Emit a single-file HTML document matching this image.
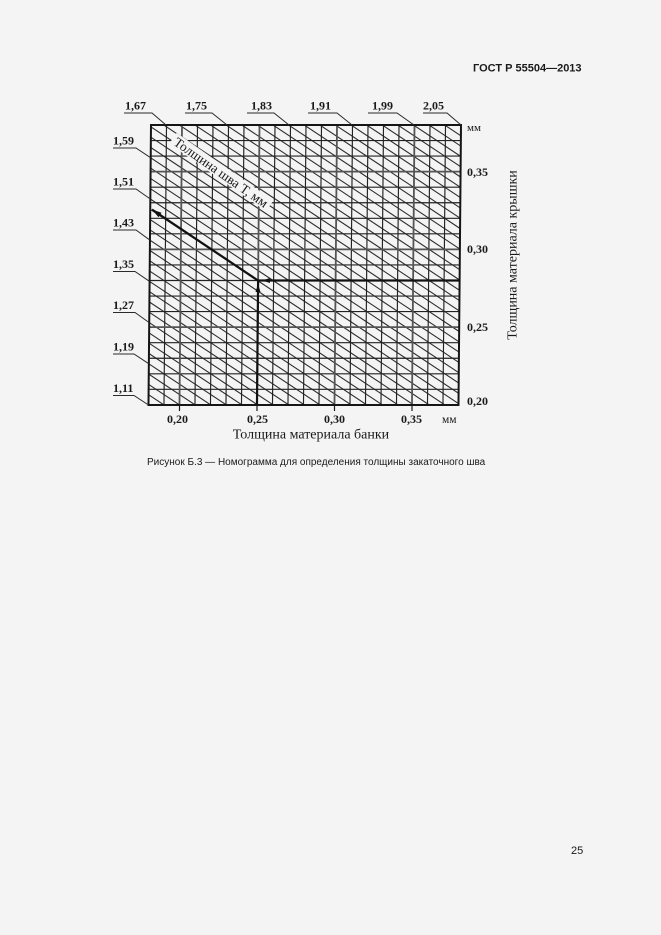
<!DOCTYPE html>
<html><head><meta charset="utf-8"><style>
html,body{margin:0;padding:0;background:#f4f4f4;}
svg{display:block;}
.s{font-family:"Liberation Serif","Noto Serif CJK SC",serif;fill:#1a1a1a;}
.b{font-weight:bold;font-size:12px;}
.a{font-family:"Liberation Sans","Noto Sans CJK SC",sans-serif;fill:#1a1a1a;}
</style></head><body>
<svg width="661" height="935" viewBox="0 0 661 935" xmlns="http://www.w3.org/2000/svg">
<rect width="661" height="935" fill="#f4f4f4"/>
<text class="a" x="473" y="71.5" font-size="11" font-weight="bold">ГОСТ Р 55504—2013</text>

<defs><clipPath id="gc"><rect x="151" y="125" width="310" height="280"/></clipPath></defs>

<g transform="matrix(1,0,-0.009,1,1.125,0)">
  <g clip-path="url(#gc)">
  <path fill="none" stroke="#2e2e2e" stroke-width="1.1" d="
M151,405L461,609.6M151,394.7L461,599.3M151,384.4L461,589M151,374.1L461,578.7M151,363.8L461,568.4
M151,353.5L461,558.1M151,343.2L461,547.8M151,332.9L461,537.5M151,322.6L461,527.2M151,312.3L461,516.9
M151,302L461,506.6M151,291.7L461,496.3M151,281.4L461,486M151,271.1L461,475.7M151,260.8L461,465.4
M151,250.5L461,455.1M151,240.2L461,444.8M151,229.9L461,434.5M151,219.6L461,424.2M151,209.3L461,413.9
M151,199L461,403.6M151,188.7L461,393.3M151,178.4L461,383M151,168.1L461,372.7M151,157.8L461,362.4
M151,147.5L461,352.1M151,137.2L461,341.8M151,126.9L461,331.5M151,116.6L461,321.2M151,106.3L461,310.9
M151,96L461,300.6M151,85.7L461,290.3M151,75.4L461,280M151,65.1L461,269.7M151,54.8L461,259.4
M151,44.5L461,249.1M151,34.2L461,238.8M151,23.9L461,228.5M151,13.6L461,218.2M151,3.3L461,207.9
M151,-7L461,197.6M151,-17.3L461,187.3M151,-27.6L461,177M151,-37.9L461,166.7M151,-48.2L461,156.4
M151,-58.5L461,146.1M151,-68.8L461,135.8M151,-79.1L461,125.5"/>
  </g>
  <path fill="none" stroke="#222" stroke-width="1.15" d="
M166.5,125V405M197.5,125V405M213,125V405M228.5,125V405M244,125V405M275,125V405M290.5,125V405
M306,125V405M321.5,125V405M352.5,125V405M368,125V405M383.5,125V405M399,125V405M430,125V405M445.5,125V405
M151,140.55H461M151,156.1H461M151,187.2H461M151,202.75H461M151,218.3H461M151,233.85H461
M151,264.95H461M151,280.5H461M151,296.05H461M151,311.6H461M151,342.7H461M151,358.25H461
M151,373.8H461M151,389.35H461"/>
  <path fill="none" stroke="#555" stroke-width="1.8" d="
M182,125V405M259.5,125V405M337,125V405M414.5,125V405
M151,171.65H461M151,249.4H461M151,327.15H461"/>
  <rect x="151" y="125" width="310" height="280" fill="none" stroke="#151515" stroke-width="2"/>
  <path fill="none" stroke="#111" stroke-width="2.2" d="M259.5,280.5H461M259.5,280.5V405"/>
  <path fill="#111" d="M259.5,284 l-2.5,8 h5z"/>
</g>

<path fill="none" stroke="#111" stroke-width="2.2" d="M152,209.5L258,280.5"/>
<path fill="#111" d="M152,209.5 l9.5,3.2 l-3,4.5z"/>
<path fill="#111" d="M262,280.5 l8,-2.5 v5z"/>

<g transform="translate(221,172.5) rotate(35)">
  <rect x="-59" y="-7" width="118" height="13" fill="#f4f4f4"/>
  <text class="s" x="0" y="4.5" font-size="13.5" text-anchor="middle">Толщина шва Т, мм</text>
</g>

<path fill="none" stroke="#2a2a2a" stroke-width="1" d="
M124,113H152L166,125M185,113H212L227,125M247,113H274L289,125M308,113H337L352,125M368,113H397L414,125M423,113H447L461,125
M113,148H136L150.7,157.8M113,189H136L150.3,199M113,230H136L150,240.2M113,271.5H135L149.6,281.4
M113,312.5H135L149.2,322.6M113,354H134L148.9,363.8M113,395.5H134L148.5,405"/>

<text class="s b" x="125" y="109.5">1,67</text>
<text class="s b" x="186" y="109.5">1,75</text>
<text class="s b" x="251" y="109.5">1,83</text>
<text class="s b" x="310" y="109.5">1,91</text>
<text class="s b" x="372" y="109.5">1,99</text>
<text class="s b" x="423" y="109.5">2,05</text>

<text class="s b" x="113" y="144.5">1,59</text>
<text class="s b" x="113" y="185.5">1,51</text>
<text class="s b" x="113" y="226.5">1,43</text>
<text class="s b" x="113" y="268">1,35</text>
<text class="s b" x="113" y="309">1,27</text>
<text class="s b" x="113" y="350.5">1,19</text>
<text class="s b" x="113" y="392">1,11</text>

<text class="s" x="467" y="131" font-size="11">мм</text>
<text class="s b" x="467" y="176">0,35</text>
<text class="s b" x="467" y="253">0,30</text>
<text class="s b" x="467" y="331">0,25</text>
<text class="s b" x="467" y="405">0,20</text>

<path fill="none" stroke="#1a1a1a" stroke-width="1.2" d="M179.5,405V411M257,405V411M334.5,405V411M412,405V411"/>
<text class="s b" x="167" y="423">0,20</text>
<text class="s b" x="247" y="423">0,25</text>
<text class="s b" x="324" y="423">0,30</text>
<text class="s b" x="401" y="423">0,35</text>
<text class="s" x="442" y="423" font-size="11.5">мм</text>

<text class="s" x="311" y="438.5" font-size="14" text-anchor="middle">Толщина материала банки</text>
<text class="s" transform="translate(516.5,255) rotate(-90)" x="0" y="0" font-size="14" text-anchor="middle">Толщина материала крышки</text>

<text class="a" x="147" y="465" font-size="10">Рисунок Б.3 — Номограмма для определения толщины закаточного шва</text>

<text class="a" x="571" y="854" font-size="11">25</text>
</svg>
</body></html>
